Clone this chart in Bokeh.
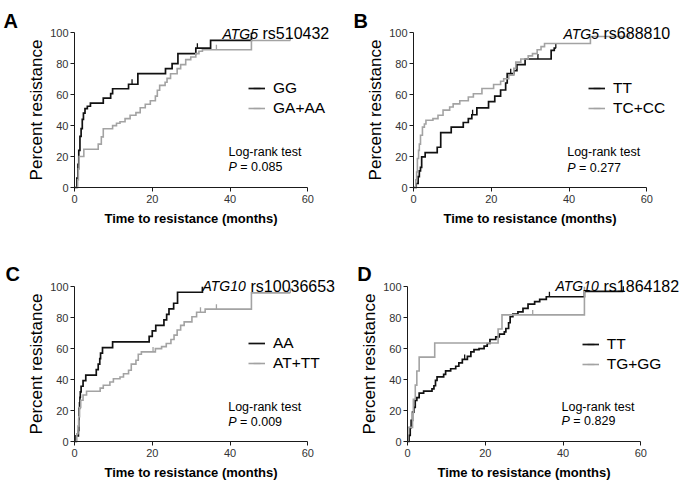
import numpy as np
from bokeh.plotting import figure
from bokeh.models import Label, Legend, LegendItem, FixedTicker
from bokeh.layouts import row, column
from bokeh.embed import file_html
from bokeh.resources import INLINE

# ---------------- data ----------------
# Panel A: ATG5 rs510432
a_gg_t = [0.6, 0.9, 1.1, 1.4, 1.7, 2.0, 2.3, 2.7, 3.3, 4.1, 7.4, 9.3, 9.8, 13.9, 16.3, 23.4, 25.1, 26.6, 31.2, 35.0, 45.5]
a_gg_v = [6, 15, 24, 33, 38, 44, 48, 51, 52.5, 54.5, 57.8, 60.6, 63.8, 66.7, 73.5, 76.8, 80, 86.5, 90, 95, 100]
a_gg_end = 45.5
a_gg_cens = [14.8, 31.6]
a_ga_t = [0.8, 1.0, 1.2, 2.4, 6.1, 6.9, 7.4, 9.8, 10.8, 11.7, 13.0, 14.3, 15.8, 16.9, 18.2, 19.5, 20.8, 21.3, 21.9,
          23.3, 23.8, 24.7, 26.4, 27.3, 28.6, 29.9, 31.2, 32.0, 32.9, 45.5]
a_ga_v = [5, 12, 20, 24.7, 28, 32.7, 38, 40, 41.5, 42.5, 44.5, 46.7, 48.4, 51.5, 53.8, 56, 59, 62.8, 66,
          68, 70.5, 73.5, 76.8, 79.4, 82.6, 84.3, 86.5, 88, 89, 95]
a_ga_end = 55.5
a_ga_cens = [36.5, 55.5]

# Panel B: ATG5 rs688810
b_tt_t = [0.7, 1.2, 1.5, 1.8, 2.1, 3.0, 6.1, 7.0, 9.7, 12.8, 14.1, 15.0, 16.3, 19.3, 20.9, 22.4, 23.7, 24.1,
          25.8, 26.6, 28.7, 35.4, 36.2]
b_tt_v = [2.6, 7, 10.8, 13, 19.8, 22.5, 26, 35.5, 39, 42, 44.5, 47, 51.5, 55.5, 59, 63, 67.5, 73.5,
          75.5, 79.4, 83, 88.6, 90]
b_tt_end = 36.6
b_tt_cens = [15.2, 25.0, 32.0, 36.6]
b_tc_t = [0.6, 0.8, 1.0, 1.3, 1.5, 1.8, 2.3, 2.8, 3.2, 5.0, 6.3, 7.6, 9.3, 10.2, 11.9, 14.1, 15.4, 17.6, 20.6,
          22.4, 23.2, 24.5, 25.8, 26.3, 27.6, 29.5, 30.6, 31.8, 32.8, 33.7, 45.5]
b_tc_v = [5, 10, 18.7, 24, 28, 33.8, 39, 41, 43.4, 44.5, 46.7, 50, 52, 54, 56, 58.5, 60.6, 64, 66.5,
          68.6, 70.3, 72.5, 77, 81, 83, 85, 86.5, 89, 91, 93, 97.5]
b_tc_end = 55.5
b_tc_cens = [55.5]

# Panel C: ATG10 rs10036653
c_aa_t = [0.4, 1.0, 1.1, 1.2, 1.3, 1.4, 1.5, 1.7, 2.2, 2.9, 5.6, 6.1, 6.5, 6.7, 7.2, 9.8, 19.2, 20.0, 20.9,
          23.0, 23.7, 24.3, 25.5, 26.5, 32.9]
c_aa_v = [3.6, 7.1, 14.3, 21.4, 25, 28.6, 32.1, 35.7, 39.3, 42.9, 46.4, 50, 53.6, 57.1, 60.7, 64.3, 67.9, 71.4, 75,
          78.6, 82.1, 85.7, 89.3, 96.4, 100]
c_aa_end = 32.9
c_aa_cens = []
c_at_t = [0.6, 0.9, 1.1, 1.3, 1.6, 2.2, 3.1, 6.6, 7.4, 9.1, 10.0, 11.7, 12.6, 13.9, 14.6, 15.8, 16.4, 17.2, 20.8,
          22.4, 23.6, 24.8, 25.6, 26.4, 27.3, 28.2, 30.2, 31.4, 33.6, 45.5]
c_at_v = [5, 10, 16, 22, 26.6, 30, 32.5, 34.5, 36.3, 38.4, 40.5, 41.7, 43.8, 46, 50, 52.5, 56.4, 57.9, 60,
          61.3, 63.3, 65.9, 68.7, 72, 75, 77.3, 80.6, 83.5, 85.5, 96]
c_at_end = 55.5
c_at_cens = [20.2, 32.4, 36.5, 55.5]

# Panel D: ATG10 rs1864182
d_tt_t = [0.4, 0.7, 0.94, 1.29, 1.64, 1.99, 2.4, 3.0, 4.15, 6.3, 6.8, 7.2, 7.6, 9.3, 9.8, 11.1, 12.4, 13.2, 14.1,
          15.4, 16.3, 17.1, 18.4, 19.7, 20.5, 21.2, 22.7, 23.6, 24.9, 25.3, 26.0, 26.4, 27.1, 28.4, 29.7, 31.0,
          32.7, 34.0, 35.7, 45.5]
d_tt_v = [4, 9, 13.6, 19, 22, 26.6, 28.3, 31.3, 32.6, 34, 36, 39.5, 41.7, 43.4, 45.6, 47, 48.6, 50.8, 53,
          55, 57.9, 59.4, 60, 61.6, 63.3, 65.9, 67.6, 69.3, 70.8, 73, 76.7, 80.6, 82.3, 83.8, 86, 88.8,
          90.3, 91.8, 93.5, 97]
d_tt_end = 55.5
d_tt_cens = [14.7, 36.5, 55.5]
d_tg_t = [0.1, 1.3, 1.5, 2.0, 2.4, 3.0, 7.0, 23.3, 24.3, 45.5]
d_tg_v = [9.1, 18.2, 27.3, 36.4, 45.5, 54.5, 63.6, 72.7, 81.8, 100]
d_tg_end = 45.5
d_tg_cens = [32.2]

x_ticks = [0, 20, 40, 60]
y_ticks = [0, 20, 40, 60, 80, 100]
x_label = "Time to resistance (months)"
y_label = "Percent resistance"

# ---------------- styling ----------------
FONT = "Liberation Sans"
BLACK = "#111111"
GRAY = "#a3a3a3"
SX = 233.3 / 60.0     # px per month
SY = 154.8 / 100.0    # px per percent


class Panel:
    def __init__(self, L, T, W, H, x0, y0):
        self.L, self.T, self.W, self.H, self.x0, self.y0 = L, T, W, H, x0, y0
        xr = ((L - x0) / SX, (L + W - x0) / SX)
        yr = ((y0 - (T + H)) / SY, (y0 - T) / SY)
        p = figure(frame_width=W, frame_height=H, x_range=xr, y_range=yr, min_border=0,
                   output_backend="svg", toolbar_location=None, title_location=None)
        p.outline_line_color = None
        p.background_fill_color = "white"
        p.border_fill_color = "white"
        p.xgrid.visible = False
        p.ygrid.visible = False
        p.xaxis.fixed_location = 0
        p.yaxis.fixed_location = 0
        p.xaxis.bounds = (0, 60)
        p.yaxis.bounds = (0, 100)
        p.xaxis.ticker = FixedTicker(ticks=x_ticks)
        p.yaxis.ticker = FixedTicker(ticks=y_ticks)
        for ax in (p.xaxis[0], p.yaxis[0]):
            ax.minor_tick_line_color = None
            ax.major_tick_in = 0
            ax.major_tick_out = 4
            ax.axis_line_color = "#1a1a1a"
            ax.major_tick_line_color = "#1a1a1a"
            ax.major_label_text_font = FONT
            ax.major_label_text_font_size = "11px"
            ax.major_label_text_color = "#333333"
            ax.axis_label_text_font = FONT
            ax.axis_label_text_color = "black"
        p.xaxis.major_label_standoff = 3
        p.xaxis.axis_label = x_label
        p.xaxis.axis_label_text_font_style = "bold"
        p.xaxis.axis_label_text_font_size = "13px"
        p.xaxis.axis_label_standoff = 5
        p.yaxis.major_label_standoff = 2
        p.yaxis.axis_label = y_label
        p.yaxis.axis_label_text_font_style = "normal"
        p.yaxis.axis_label_text_font_size = "17px"
        p.yaxis.axis_label_standoff = 1
        self.p = p

    def d(self, px, py):
        return (px - self.x0) / SX, (self.y0 - py) / SY

    def curve(self, t, v, end, cens, color, width):
        p = self.p
        xs = [0.0] + list(t) + [end]
        ys = [0.0] + list(v) + [v[-1]]
        r = p.step(xs, ys, mode="after", line_color=color, line_width=width, line_join="miter")
        tt = np.asarray(t)
        vv = np.asarray(v)
        cx = np.asarray(cens, dtype=float)
        idx = np.searchsorted(tt, cx, side="right") - 1
        cy = np.where(idx >= 0, vv[np.clip(idx, 0, None)], 0.0)
        s = p.scatter(cx, cy + 1.6, marker="dash", angle=np.pi / 2, size=5,
                      line_color=color, line_width=1.3, fill_color=None)
        return r, s

    def label(self, px, py, text, size, style="normal"):
        x, y = self.d(px, py)
        self.p.add_layout(Label(x=x, y=y, text=text, text_font=FONT, text_font_size=size,
                                text_font_style=style, text_baseline="alphabetic",
                                text_align="left", text_color="black"))

    def texts(self, letter, lpos, gene, rs, gpos, rspos, lr_pos, pval):
        self.label(lpos[0], lpos[1], letter, "20px", "bold")
        self.label(gpos[0], gpos[1], gene, "14px", "italic")
        self.label(rspos[0], rspos[1], rs, "16px")
        lx, ly1, ly2 = lr_pos
        self.label(lx, ly1, "Log-rank test", "12.5px")
        self.label(lx, ly2, "P", "12.5px", "italic")
        self.label(lx + 11.8, ly2, "= " + pval, "12.5px")

    def legend(self, items, glx, cy2):
        lg = Legend(items=[LegendItem(label=lab, renderers=list(rs)) for lab, rs in items],
                    location=(glx - self.L, (self.T + self.H) - (cy2 + 10)),
                    border_line_color=None, background_fill_alpha=0,
                    padding=0, margin=0, spacing=0, glyph_width=17, glyph_height=20,
                    label_height=20, label_standoff=8, label_text_font=FONT,
                    label_text_font_size="15.5px", label_text_color="black")
        self.p.add_layout(lg)


# Panel A
A = Panel(0, 0, 340, 240, 74, 187)
rA1 = A.curve(a_gg_t, a_gg_v, a_gg_end, a_gg_cens, BLACK, 1.7)
rA2 = A.curve(a_ga_t, a_ga_v, a_ga_end, a_ga_cens, GRAY, 1.6)
A.legend([("GG", rA1), ("GA+AA", rA2)], 248, 108.3)
A.texts("A", (3, 20.7), "ATG5", "rs510432", (222, 33), (262, 33), (228, 151.3, 166.8), "0.085")

# Panel B
B = Panel(340, 0, 344, 240, 413, 187)
rB1 = B.curve(b_tt_t, b_tt_v, b_tt_end, b_tt_cens, BLACK, 1.7)
rB2 = B.curve(b_tc_t, b_tc_v, b_tc_end, b_tc_cens, GRAY, 1.6)
B.legend([("TT", rB1), ("TC+CC", rB2)], 588, 108.3)
B.texts("B", (353, 20.3), "ATG5", "rs688810", (563, 33), (603, 33), (566.7, 151.3, 167.2), "0.277")

# Panel C
C = Panel(0, 240, 340, 240, 74, 441)
rC1 = C.curve(c_aa_t, c_aa_v, c_aa_end, c_aa_cens, BLACK, 1.7)
rC2 = C.curve(c_at_t, c_at_v, c_at_end, c_at_cens, GRAY, 1.6)
C.legend([("AA", rC1), ("AT+TT", rC2)], 248, 363.3)
C.texts("C", (5, 273.3), "ATG10", "rs10036653", (202, 285.5), (250, 285.5), (227.7, 406.2, 421.2), "0.009")

# Panel D
D = Panel(340, 240, 344, 240, 407, 441)
rD1 = D.curve(d_tt_t, d_tt_v, d_tt_end, d_tt_cens, BLACK, 1.7)
rD2 = D.curve(d_tg_t, d_tg_v, d_tg_end, d_tg_cens, GRAY, 1.6)
D.legend([("TT", rD1), ("TG+GG", rD2)], 581.7, 363.5)
D.texts("D", (356.7, 273.3), "ATG10", "rs1864182", (555, 285.5), (603, 285.5), (561, 406.2, 420.5), "0.829")

layout = column(row(A.p, B.p), row(C.p, D.p))
open("out.html", "w").write(file_html(layout, INLINE))
